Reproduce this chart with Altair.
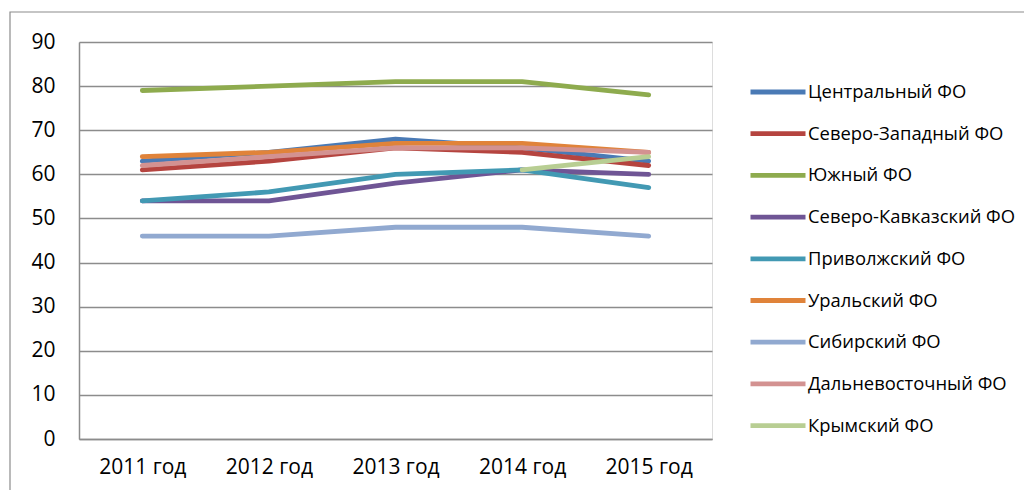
import altair as alt
import pandas as pd

years = ["2011 год", "2012 год", "2013 год", "2014 год", "2015 год"]
series = [
    "Центральный ФО",
    "Северо-Западный ФО",
    "Южный ФО",
    "Северо-Кавказский ФО",
    "Приволжский ФО",
    "Уральский ФО",
    "Сибирский ФО",
    "Дальневосточный ФО",
    "Крымский ФО",
]
central = [63, 65, 68, 66, 63]
northwest = [61, 63, 66, 65, 62]
south = [79, 80, 81, 81, 78]
ncaucasus = [54, 54, 58, 61, 60]
volga = [54, 56, 60, 61, 57]
ural = [64, 65, 67, 67, 65]
siberia = [46, 46, 48, 48, 46]
fareast = [62, 64, 66, 66, 65]
crimea = [None, None, None, 61, 64]
colors = ["#4A7AB5", "#B5443F", "#8EAB4E", "#6F5595", "#4299B3",
          "#E0833A", "#91A9D0", "#D39291", "#B8CE93"]

values = [central, northwest, south, ncaucasus, volga, ural, siberia, fareast, crimea]
rows = []
for name, vals in zip(series, values):
    for yr, v in zip(years, vals):
        if v is not None:
            rows.append({"year": yr, "series": name, "value": v})
df = pd.DataFrame(rows)

FONT = "Open Sans"

xenc = alt.X(
    "year:N", sort=years, title=None,
    scale=alt.Scale(domain=years, type="point", padding=0.5),
    axis=alt.Axis(labelAngle=0, ticks=False, grid=False, domainColor="#8c8c8c",
                  domainWidth=1.5, labelFontSize=21, labelFont=FONT,
                  labelColor="#000000", labelPadding=17),
)
yenc = alt.Y(
    "value:Q", title=None,
    scale=alt.Scale(domain=[0, 90], nice=False, zero=True),
    axis=alt.Axis(values=list(range(0, 91, 10)), ticks=False, grid=True,
                  gridColor="#8c8c8c", gridWidth=1.5, domainColor="#8c8c8c",
                  domainWidth=1.5, labelFontSize=21, labelFont=FONT,
                  labelColor="#000000", labelPadding=24),
)
cenc = alt.Color(
    "series:N", title=None,
    scale=alt.Scale(domain=series, range=colors),
    legend=alt.Legend(orient="none", legendX=669, legendY=20,
                      symbolType="stroke", symbolSize=3025, symbolStrokeWidth=4.8,
                      labelFontSize=18.4, labelFont=FONT, labelColor="#000000",
                      rowPadding=1.7, labelOffset=0, labelLimit=300),
)

border = alt.Chart(pd.DataFrame({"a": [0]})).mark_rect(
    fill=None, stroke="#8c8c8c", strokeWidth=1.2
).encode(x=alt.value(-69), x2=alt.value(1000), y=alt.value(-30), y2=alt.value(500))

layers = [border]
for name in series:
    layers.append(
        alt.Chart(df).transform_filter(alt.datum.series == name)
        .mark_line(strokeWidth=4.8, strokeCap="round", strokeJoin="round")
        .encode(x=xenc, y=yenc, color=cenc)
    )

chart = alt.layer(*layers).properties(
    width=633, height=397,
    autosize=alt.AutoSizeParams(type="none"),
    padding={"left": 71, "top": 34, "right": 312, "bottom": 51},
).configure_view(stroke=None).configure(background="#ffffff")

chart.save("out.html", embed_options={"renderer": "svg", "actions": False})
